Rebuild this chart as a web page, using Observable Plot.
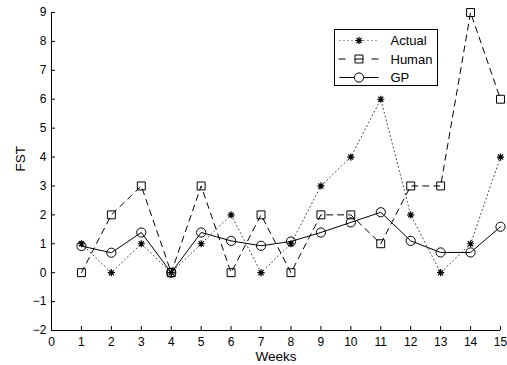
<!DOCTYPE html>
<html><head><meta charset="utf-8">
<script src="https://cdn.jsdelivr.net/npm/d3@7"></script>
<script src="https://cdn.jsdelivr.net/npm/@observablehq/plot@0.6"></script>
<style>
body{margin:0;background:#fff;}
#wrap{position:relative;width:507px;height:365px;}
</style></head><body><div id="wrap"></div>
<script>
const weeks  = [1, 2, 3, 4, 5, 6, 7, 8, 9, 10, 11, 12, 13, 14, 15];
const actual = [1, 0, 1, 0, 1, 2, 0, 1, 3, 4, 6, 2, 0, 1, 4];
const human  = [0, 2, 3, 0, 3, 0, 2, 0, 2, 2, 1, 3, 3, 9, 6];
const gp     = [0.92, 0.69, 1.39, 0, 1.39, 1.1, 0.93, 1.08, 1.39, 1.74, 2.09, 1.1, 0.7, 0.7, 1.59];
const xTicks = [0, 1, 2, 3, 4, 5, 6, 7, 8, 9, 10, 11, 12, 13, 14, 15];
const yTicks = [-2, -1, 0, 1, 2, 3, 4, 5, 6, 7, 8, 9];
const seriesNames = ["Actual", "Human", "GP"];
const xLabel = "Weeks", yLabel = "FST";

const W = 507, H = 365, mL = 51, mR = 7, mT = 12, mB = 35;
const FONT = "'Liberation Sans', Arial, Helvetica, sans-serif";
const rows = weeks.map((w, i) => ({week: w, actual: actual[i], human: human[i], gp: gp[i]}));

// MATLAB-like 8-armed asterisk
const asterisk8 = {draw(ctx, size) {
  const r = Math.sqrt(size / Math.PI), d = r * Math.SQRT1_2;
  ctx.moveTo(-r, 0); ctx.lineTo(r, 0);
  ctx.moveTo(0, -r); ctx.lineTo(0, r);
  ctx.moveTo(-d, -d); ctx.lineTo(d, d);
  ctx.moveTo(-d, d); ctx.lineTo(d, -d);
}};
const squareSym = {draw(ctx, size) {
  const h = Math.sqrt(size / Math.PI) * 0.9;
  ctx.rect(-h, -h, 2 * h, 2 * h);
}};
const circleSym = {draw(ctx, size) {
  const r = Math.sqrt(size / Math.PI);
  ctx.moveTo(r, 0); ctx.arc(0, 0, r, 0, 2 * Math.PI);
}};

const styles = {
  Actual: {key: "actual", dash: "1,3", lineColor: "#444", sym: asterisk8, r: 3.6, sw: 1.2},
  Human:  {key: "human",  dash: "6,5", lineColor: "#000", sym: squareSym, r: 4.4, sw: 1},
  GP:     {key: "gp",     dash: null,  lineColor: "#000", sym: circleSym, r: 4.6, sw: 1}
};

const plotW = W - mL - mR, plotH = H - mT - mB;
const marks = [
  Plot.ruleX([0], {stroke: "#000"}),
  Plot.ruleY([-2], {stroke: "#000"}),
  Plot.tickX(xTicks, {x: d => d, insetTop: plotH - 4, stroke: "#000"}),
  Plot.tickY(yTicks, {y: d => d, insetRight: plotW - 4, stroke: "#000"}),
  Plot.axisX(xTicks, {tickSize: 0, tickPadding: 7, label: null, fontSize: 12}),
  Plot.axisY(yTicks, {tickSize: 0, tickPadding: 5, label: null, fontSize: 12}),
  Plot.text([xLabel], {frameAnchor: "bottom", dy: 26, lineAnchor: "middle", text: d => d, fontSize: 13.5}),
  Plot.text([yLabel], {frameAnchor: "left", dx: -31, rotate: -90, text: d => d, fontSize: 13.5})
];
for (const name of seriesNames) {
  const s = styles[name];
  marks.push(Plot.line(rows, {x: "week", y: s.key, stroke: s.lineColor, strokeWidth: 1, strokeDasharray: s.dash}));
}
for (const name of seriesNames) {
  const s = styles[name];
  marks.push(Plot.dot(rows, {x: "week", y: s.key, symbol: s.sym, r: s.r, stroke: "#000", fill: "none", strokeWidth: s.sw}));
}

const svg = Plot.plot({
  width: W, height: H, marginLeft: mL, marginRight: mR, marginTop: mT, marginBottom: mB,
  style: {fontFamily: FONT, fontSize: "12px", color: "#000", background: "#fff"},
  x: {domain: [0, 15]},
  y: {domain: [-2, 9]},
  marks
});

// legend box inside the plot
const g = d3.select(svg).append("g").attr("transform", "translate(334.5,29.5)")
  .attr("text-anchor", "start");
g.append("rect").attr("width", 103).attr("height", 56).attr("fill", "#fff").attr("stroke", "#000");
seriesNames.forEach((name, i) => {
  const s = styles[name];
  const y = 11 + i * 18.5;
  if (s.dash === "6,5") {
    g.append("line").attr("x1", 4).attr("x2", 11).attr("y1", y).attr("y2", y).attr("stroke", "#000");
    g.append("line").attr("x1", 37).attr("x2", 44).attr("y1", y).attr("y2", y).attr("stroke", "#000");
  } else {
    g.append("line").attr("x1", 5).attr("x2", 44).attr("y1", y).attr("y2", y)
      .attr("stroke", s.lineColor).attr("stroke-dasharray", s.dash);
  }
  g.append("path").attr("transform", `translate(24.5,${y})`)
    .attr("d", d3.symbol().type(s.sym).size(Math.PI * s.r * s.r)())
    .attr("fill", name === "GP" ? "#fff" : "none").attr("stroke", "#000").attr("stroke-width", s.sw);
  if (name === "Human") {
    g.append("line").attr("x1", 20).attr("x2", 29).attr("y1", y).attr("y2", y).attr("stroke", "#000");
  }
  g.append("text").attr("x", 56).attr("y", y).attr("dy", "0.35em").attr("text-anchor", "start")
    .attr("font-family", FONT).attr("font-size", 13).attr("fill", "#000").text(name);
});

document.getElementById("wrap").appendChild(svg);
</script>
</body></html>
